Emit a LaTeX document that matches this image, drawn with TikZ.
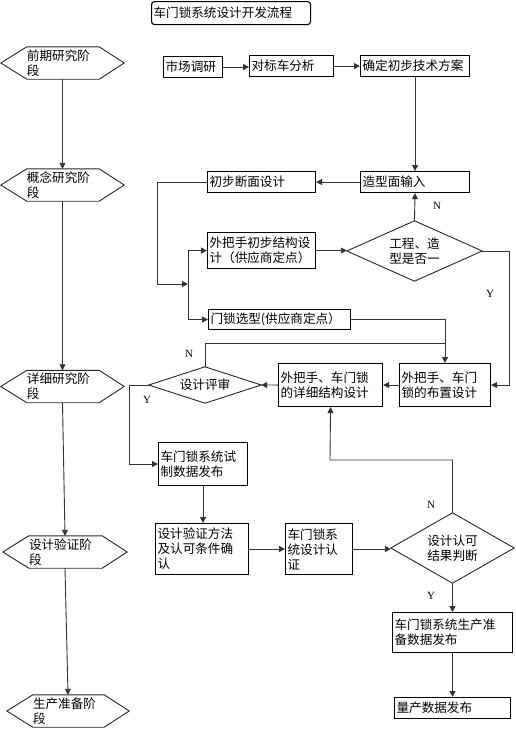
\documentclass[tikz,border=0pt]{standalone}
\usepackage{fontspec}
\setmainfont{Liberation Serif}
\newfontfamily\cjk{Noto Sans CJK SC}
\usetikzlibrary{arrows.meta,calc}
\newcommand\hexdraw[1]{\draw[shapeline] (#1.west) -- ([xshift=26pt]#1.north west) -- ([xshift=-25pt]#1.north east) -- (#1.east) -- ([xshift=-25pt]#1.south east) -- ([xshift=26pt]#1.south west) -- cycle;}
\newcommand\diadraw[1]{\draw[shapeline] (#1.west) -- (#1.north) -- (#1.east) -- (#1.south) -- cycle;}
\begin{document}
\begin{tikzpicture}[x=1pt,y=-1pt,
  every node/.style={font=\cjk\fontsize{12.6}{15}\selectfont},
  box/.style={draw=black, line width=1.1pt, rectangle, inner xsep=2pt, inner ysep=0pt, align=left, anchor=north west},
  hexnode/.style={inner xsep=26pt, inner ysep=0pt, align=left, minimum height=32pt},
  dia/.style={inner sep=0pt, align=center},
  shapeline/.style={draw=black!85, line width=0.9pt},
  conn/.style={draw=black!80, line width=0.9pt},
  arr/.style={conn, -{Triangle[length=6pt,width=6pt]}},
  lbl/.style={font=\rmfamily\fontsize{11}{13}\selectfont, inner sep=0pt},
]
\useasboundingbox (0,0) rectangle (516,729);

% title
\node[box, rounded corners=3pt, text width=155pt, minimum height=23pt] (title) at (151,1) {车门锁系统设计开发流程};

% left column hexagons
\node[hexnode, text width=71pt] (h1) at (62.5,63) {前期研究阶\\段};
\node[hexnode, text width=71pt] (h2) at (62.5,185) {概念研究阶\\段};
\node[hexnode, text width=71pt] (h3) at (62.5,386.5) {详细研究阶\\段};
\node[hexnode, text width=72pt] (h4) at (65,552) {设计验证阶\\段};
\node[hexnode, text width=70pt] (h5) at (68,711) {生产准备阶\\段};
\hexdraw{h1}\hexdraw{h2}\hexdraw{h3}\hexdraw{h4}\hexdraw{h5}

% boxes
\node[box, text width=55pt, minimum height=21pt] (m1) at (163,56) {市场调研};
\node[box, text width=80pt, minimum height=21pt] (m2) at (249,55) {对标车分析};
\node[box, text width=105pt, minimum height=21pt] (m3) at (360,55) {确定初步技术方案};
\node[box, text width=105pt, minimum height=21pt] (m4) at (360,171) {造型面输入};
\node[box, text width=104pt, minimum height=21pt] (m5) at (207,171) {初步断面设计};
\node[box, text width=104pt, minimum height=36pt] (m6) at (207,232) {外把手初步结构设\\计（供应商定点）};
\node[box, text width=138pt, minimum height=20pt] (m7) at (208,309) {门锁选型(供应商定点）};
\node[box, text width=87pt, minimum height=43pt] (m8) at (399,363) {外把手、车门\\锁的布置设计};
\node[box, text width=100pt, minimum height=43pt] (m9) at (278,363) {外把手、车门锁\\的详细结构设计};
\node[box, text width=85pt, minimum height=43pt] (m10) at (158,442) {车门锁系统试\\制数据发布};
\node[box, text width=89pt, minimum height=51pt] (m11) at (155,523) {设计验证方法\\及认可条件确\\认};
\node[box, text width=63pt, minimum height=51pt] (m12) at (285,523) {车门锁系\\统设计认\\证};
\node[box, text width=116pt, minimum height=40pt] (m13) at (392,612) {车门锁系统生产准\\备数据发布};
\node[box, text width=112pt, minimum height=21pt] (m14) at (394,697) {量产数据发布};

% diamonds
\node[dia, minimum width=135pt, minimum height=60pt] (d1) at (414.5,251) {工程、造\\型是否一};
\node[dia, minimum width=112pt, minimum height=36pt] (d2) at (205,385) {设计评审};
\node[dia, minimum width=123pt, minimum height=70pt] (d3) at (452.5,548) {设计认可\\结果判断};
\diadraw{d1}\diadraw{d2}\diadraw{d3}

% helper coordinates
\coordinate (j1) at (188,284);
\coordinate (k1) at (157,284);
\coordinate (k2) at (509,251);
\coordinate (j2) at (444.5,343);
\coordinate (k3) at (129,385);
\coordinate (k4) at (330,460);

% left column connectors
\draw[arr] (h1.south) -- (h2.north);
\draw[arr] (h2.south) -- (h3.north);
\draw[arr] (h3.south) -- (h4.north);
\draw[arr] (h4.south) -- (h5.north);

% main flow
\draw[arr] (m1.east) -- (m1.east -| m2.west);
\draw[arr] (m2.east) -- (m2.east -| m3.west);
\draw[arr] (m3.south) -- (m4.north);
\draw[arr] (m4.west) -- (m5.east);
\draw[arr] (m5.west) -| (k1) -- (j1);
\draw[arr] (j1) |- (m6.west);
\draw[arr] (j1) |- (m7.west);
\draw[arr] (m6.east) -- (m6.east -| d1.west);
\draw[arr] (d1.north) -- (m4.south);
\draw[arr] (d1.east) -- (k2) |- (m8.east);
\draw[arr] (m7.east) -| (m8.north);
\draw[arr] (m8.west) -- (m9.east);
\draw[arr] (m9.west) -- (d2.east);
\draw[conn] (d2.north) |- (j2);
\draw[arr] (d2.west) -- (k3) |- (m10.west);
\draw[arr] (m10.south) -- (m10.south |- m11.north);
\draw[arr] (m11.east) -- (m11.east -| m12.west);
\draw[arr] (m12.east) -- (m12.east -| d3.west);
\draw[arr] (d3.north) |- (k4) -- (m9.south);
\draw[arr] (d3.south) -- (d3.south |- m13.north);
\draw[arr] (m13.south) -- (m13.south |- m14.north);

% labels
\node[lbl] (lN1) at (437,206) {N};
\node[lbl] (lY1) at (490,294) {Y};
\node[lbl] (lN2) at (189,354) {N};
\node[lbl] (lY2) at (147,400) {Y};
\node[lbl] (lN3) at (431,505) {N};
\node[lbl] (lY3) at (431,596) {Y};
\end{tikzpicture}
\end{document}
